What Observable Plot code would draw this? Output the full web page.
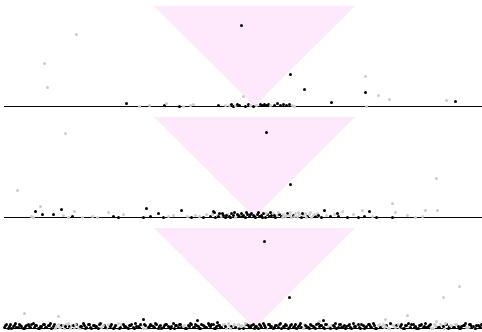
<!DOCTYPE html>
<html><head><meta charset="utf-8">
<script src="https://cdn.jsdelivr.net/npm/d3@7"></script>
<script src="https://cdn.jsdelivr.net/npm/@observablehq/plot@0.6"></script>
<style>body{margin:0;background:#fff}#c svg{display:block}</style>
</head><body><div id="c"></div>
<script>
// cone (triangle) outline, shared by all panels
const triX = [154, 254.5, 355];
const triY = [100, 0, 100];

// panel 1 points: [x, y, colour]  (k = black, g = grey)
const panel1 = [
  [76,72,"g"],[44,43,"g"],[47,19,"g"],[126,3,"k"],[139,0,"g"],[149,1,"g"],[164,1,"k"],[166,3,"g"],
  [179,0,"k"],[183,0,"g"],[190,1,"g"],[193,2,"g"],[218,1,"k"],[225,1,"g"],
  [229,1,"g"],[231,2,"k"],[233,0,"k"],[235,1,"g"],[237,2,"k"],[239,1,"k"],[243,10,"g"],[245,0,"k"],
  [248,2,"k"],[250,1,"g"],[253,0,"k"],[256,1,"g"],[260,2,"k"],[262,1,"k"],[264,2,"k"],[266,1,"k"],
  [268,2,"k"],[270,1,"g"],[274,1,"k"],[277,3,"k"],[280,1,"k"],[283,2,"k"],[286,1,"k"],[289,2,"k"],
  [292,1,"g"],[294,0,"g"],
  [241,81,"k"],[290,32,"k"],[304,17,"k"],[331,4,"k"],[365,30,"g"],[365,14,"k"],[366,0,"g"],
  [378,11,"g"],[389,7,"g"],[446,6,"g"],[455,5,"k"]
];

// panel 2 points
const panel2 = [
  [65,84,"g"],[17,27,"g"],[40,11,"g"],[35,6,"k"],[42,3,"k"],[53,3,"k"],[61,8,"k"],[63,2,"g"],
  [72,1,"k"],[74,6,"g"],[31,1,"g"],[33,0,"g"],[68,0,"g"],[82,0,"g"],[92,1,"g"],[97,0,"g"],
  [108,5,"g"],[113,1,"k"],[118,0,"k"],[123,3,"g"],[143,0,"k"],[146,9,"k"],[150,1,"k"],[158,4,"k"],
  [163,0,"k"],[168,1,"g"],[173,2,"g"],[181,7,"k"],[187,1,"g"],[191,0,"k"],[195,2,"g"],[199,1,"g"],
  [203,0,"k"],[206,3,"g"],[213,6,"k"],
  [210,1,"k"],[212,3,"g"],[215,0,"k"],[217,2,"g"],[219,4,"k"],[221,1,"g"],[223,2,"k"],[225,0,"k"],
  [227,3,"g"],[229,1,"k"],[231,4,"k"],[233,2,"k"],[235,0,"g"],[237,3,"k"],[239,1,"k"],[241,4,"k"],
  [243,2,"k"],[245,0,"k"],[247,3,"k"],[249,1,"k"],[251,4,"k"],[253,2,"k"],[255,0,"k"],[257,3,"k"],
  [259,1,"k"],[261,2,"k"],[263,4,"k"],[265,0,"k"],[267,3,"k"],[269,1,"k"],[271,2,"k"],[273,4,"g"],
  [275,0,"k"],[277,2,"g"],[279,3,"k"],[281,1,"k"],[283,3,"g"],[285,1,"g"],[287,4,"k"],[289,2,"g"],
  [291,0,"g"],[293,2,"k"],[295,4,"g"],[297,1,"g"],[299,3,"g"],[301,0,"k"],[303,2,"g"],[305,4,"g"],
  [307,1,"k"],[309,3,"g"],[311,0,"g"],[313,2,"g"],[315,1,"k"],[317,4,"g"],[319,1,"g"],[321,0,"k"],
  [214,5,"k"],[218,1,"k"],[222,4,"k"],[226,2,"k"],[230,0,"k"],[234,5,"k"],[238,2,"k"],[242,1,"k"],
  [246,5,"k"],[250,3,"k"],[254,1,"k"],[258,5,"k"],[262,0,"k"],[266,4,"g"],[270,5,"k"],[274,2,"k"],
  [278,5,"g"],[282,0,"g"],[286,2,"g"],[290,5,"g"],[294,1,"g"],[298,5,"g"],[302,4,"k"],[306,0,"g"],
  [310,5,"g"],[314,3,"g"],[318,2,"k"],
  [324,7,"k"],[326,2,"g"],[330,1,"k"],[334,3,"g"],[337,4,"k"],[338,1,"k"],[342,6,"g"],[347,0,"k"],
  [353,3,"g"],[358,0,"k"],[362,7,"g"],[364,1,"k"],[369,6,"k"],[372,1,"g"],[376,0,"k"],[392,14,"g"],
  [392,0,"k"],[395,5,"g"],[407,2,"g"],[415,0,"g"],[422,1,"g"],[425,7,"g"],[437,7,"g"],[436,39,"g"],
  [266,85,"k"],[290,33,"k"]
];

// panel 3 scattered points
const panel3 = [
  [24,15,"g"],[58,12,"g"],[143,9,"k"],[197,8,"k"],[217,6,"k"],[264,87,"k"],[289,31,"k"],
  [323,8,"k"],[319,7,"g"],[385,9,"g"],[407,13,"g"],[443,31,"g"],[459,42,"g"],[436,7,"g"]
];

// panel 3 dense band along the baseline (two interleaved rows)
const band3X = [4,6,9,11,14,16,19,21,24,26,29,31,34,36,39,41,44,46,49,51,54,56,59,61,64,66,69,71,74,76,79,81,84,86,89,91,94,96,99,101,104,106,109,111,114,116,119,121,124,126,129,131,134,136,139,141,144,146,149,151,154,156,159,161,164,166,169,171,174,176,179,181,184,186,189,191,194,196,199,201,204,206,209,211,214,216,219,221,224,226,229,231,234,236,239,241,244,246,249,251,254,256,259,261,264,266,269,271,274,276,279,281,284,286,289,291,294,296,299,301,304,306,309,311,314,316,319,321,324,326,329,331,334,336,339,341,344,346,349,351,354,356,359,361,364,366,369,371,374,376,379,381,384,386,389,391,394,396,399,401,404,406,409,411,414,416,419,421,424,426,429,431,434,436,439,441,444,446,449,451,454,456,459,461,464,466,469,471,474,476,479,481];
const band3Y = [
  1,4,2,0,3,1,4,2,0,3, 2,4,1,3,0,2,4,1,3,0, 4,2,1,3,0,4,2,3,1,4, 0,2,3,1,4,0,3,2,4,1,
  3,0,2,4,1,3,0,4,2,1, 3,4,0,2,1,3,4,0,2,3, 1,4,2,0,3,4,1,2,0,3, 4,1,3,0,2,4,1,3,0,4,
  2,1,3,4,0,2,3,1,4,0, 3,2,4,1,0,3,2,4,1,3, 0,2,4,1,3,0,4,2,1,3, 4,0,2,3,1,4,2,0,3,1,
  4,2,0,3,1,4,2,3,0,4, 1,3,2,0,4,1,3,2,4,0, 2,3,1,4,0,2,4,1,3,0, 4,2,1,3,0,4,2,3,1,4,
  0,3,2,4,1,0,3,4,2,1, 3,0,4,2,1,3,0,4,2,3, 1,4,0,2,3,1,4,2,0,3, 2,4
];
const band3Grey = [56,59,64,66,71,74,79,101,106,109,116,121,141,146,184,224,226,229,234,236,241,244,266,304,331,356,379,381,384,389,391,394,399,409,431,434,436,441,444,451,456,466,474];

const band3X2 = [5,8,10,13,15,18,20,23,25,28,30,33,35,38,40,43,45,48,50,53,55,58,60,63,65,68,70,73,75,78,80,83,85,88,90,93,95,98,100,103,105,108,110,113,115,118,120,123,125,128,130,133,135,138,140,143,145,148,150,153,155,158,160,163,165,168,170,173,175,178,180,183,185,188,190,193,195,198,200,203,205,208,210,213,215,218,220,223,225,228,230,233,235,238,240,243,245,248,250,253,255,258,260,263,265,268,270,273,275,278,280,283,285,288,290,293,295,298,300,303,305,308,310,313,315,318,320,323,325,328,330,333,335,338,340,343,345,348,350,353,355,358,360,363,365,368,370,373,375,378,380,383,385,388,390,393,395,398,400,403,405,408,410,413,415,418,420,423,425,428,430,433,435,438,440,443,445,448,450,453,455,458,460,463,465,468,470,473,475,478,480];
const band3Y2 = [
  3,0,4,2,5,1,3,0,2,4, 1,5,3,0,2,4,1,3,5,2, 0,4,1,3,2,5,0,3,4,1, 2,5,0,4,1,3,2,0,5,3,
  1,4,2,0,3,5,1,4,2,0, 3,1,5,2,4,0,3,1,4,2, 5,0,3,1,4,2,0,5,3,1, 4,2,0,3,5,1,4,2,0,3,
  1,5,2,4,0,3,1,4,2,5, 0,3,1,4,2,0,5,3,1,4, 2,0,3,5,1,4,2,0,3,1, 5,2,4,0,3,1,4,2,5,0,
  3,1,4,2,0,5,3,1,4,2, 0,3,5,1,4,2,0,3,1,5, 2,4,0,3,1,4,2,5,0,3, 1,4,2,0,5,3,1,4,2,0,
  3,5,1,4,2,0,3,1,5,2, 4,0,3,1,4,2,5,0,3,1, 4,2,0,3,5,1,4,2,0,3, 1
];
const band3Grey2 = [55,58,60,63,68,70,75,78,103,108,118,143,183,223,228,230,233,238,240,245,303,328,378,383,385,388,393,395,398,433,435,440,445,450,455,468];

const tri = triX.map((x, i) => ({x, y: triY[i], top: 100}));
const toObj = arr => arr.map(([x, y, c]) => ({x, y, c}));
const band3 = band3X.map((x, i) => ({x, y: band3Y[i], c: band3Grey.includes(x) ? "g" : "k"}))
  .concat(band3X2.map((x, i) => ({x, y: band3Y2[i], c: band3Grey2.includes(x) ? "g" : "k"})));

function panel(points, height, mb) {
  return Plot.plot({
    width: 482, height, marginLeft: 4, marginRight: 0, marginTop: 6, marginBottom: mb,
    x: {domain: [4, 482], axis: null},
    y: {domain: [0, 100], axis: null},
    marks: [
      Plot.areaY(tri, {x: "x", y1: "top", y2: "y", fill: "#fde9fb"}),
      Plot.ruleY([0], {stroke: "#000", strokeWidth: 1}),
      Plot.dot(points.filter(d => d.y != null), {x: "x", y: "y", r: 1.5, fill: d => d.c === "g" ? "#cccccc" : "#000000", stroke: null})
    ]
  });
}

const c = document.getElementById("c");
c.append(panel(toObj(panel1), 111, 5));
c.append(panel(toObj(panel2), 111, 5));
c.append(panel(band3.concat(toObj(panel3)), 110, 4));
</script>
</body></html>
